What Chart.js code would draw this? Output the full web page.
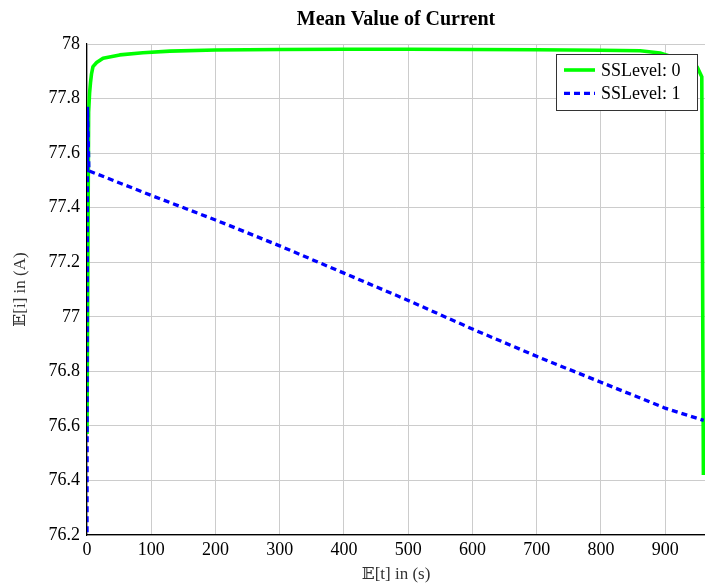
<!DOCTYPE html>
<html>
<head>
<meta charset="utf-8">
<script src="https://cdn.jsdelivr.net/npm/chart.js@4"></script>
<style>
html,body{margin:0;padding:0;background:#fff;}
#wrap{width:705px;height:588px;}
</style>
</head>
<body>
<div id="wrap"><canvas id="c" width="705" height="588"></canvas></div>
<script>
// ---- data ----
const chartTitle = 'Mean Value of Current';
const xTitle = '\u{1D53C}[t] in (s)';
const yTitle = '\u{1D53C}[i] in (A)';
const seriesNames = ['SSLevel: 0', 'SSLevel: 1'];

const xTicks = [0, 100, 200, 300, 400, 500, 600, 700, 800, 900];
const xTickLabels = ['0', '100', '200', '300', '400', '500', '600', '700', '800', '900'];
const yTicks = [76.2, 76.4, 76.6, 76.8, 77, 77.2, 77.4, 77.6, 77.8, 78];
const yTickLabels = ['76.2', '76.4', '76.6', '76.8', '77', '77.2', '77.4', '77.6', '77.8', '78'];

// SSLevel: 0 (green)
const t0 = [0, 2.5, 4, 5.5, 7, 9.3, 15, 25, 51, 87, 129, 200, 300, 400, 500, 600, 700, 800, 861, 892, 928, 950, 957, 959.5];
const i0 = [76.57, 77.75, 77.82, 77.86, 77.89, 77.917, 77.932, 77.948, 77.96, 77.968, 77.974, 77.978, 77.98, 77.981, 77.981, 77.98, 77.979, 77.977, 77.975, 77.967, 77.94, 77.915, 77.88, 76.42];

// SSLevel: 1 (blue, dashed)
const t1 = [0, 0.8, 3, 100, 200, 300, 400, 500, 600, 700, 800, 900, 960];
const i1 = [76.1, 77.77, 77.535, 77.445, 77.355, 77.26, 77.16, 77.06, 76.955, 76.855, 76.76, 76.665, 76.62];

const xMin = 0, xMax = 962, yMin = 76.2, yMax = 78;

// ---- chart ----
const serif = "'Liberation Serif', 'DejaVu Serif', serif";

const legendBox = {
  id: 'legendBox',
  afterDraw(chart) {
    const {ctx, chartArea} = chart;
    const w = 141, h = 56;
    const left = chartArea.right - 8 - w;
    const top = chartArea.top + 10;
    ctx.save();
    ctx.fillStyle = '#fff';
    ctx.fillRect(left, top, w, h);
    ctx.strokeStyle = '#333';
    ctx.lineWidth = 1;
    ctx.strokeRect(left + 0.5, top + 0.5, w, h);
    chart.data.datasets.forEach((ds, k) => {
      const y = top + 16 + k * 23.3;
      ctx.beginPath();
      ctx.strokeStyle = ds.borderColor;
      ctx.lineWidth = ds.borderWidth;
      ctx.setLineDash(ds.borderDash || []);
      ctx.moveTo(left + 8, y);
      ctx.lineTo(left + 39, y);
      ctx.stroke();
      ctx.setLineDash([]);
      ctx.fillStyle = '#000';
      ctx.font = "18px " + serif;
      ctx.textBaseline = 'middle';
      ctx.textAlign = 'left';
      ctx.fillText(ds.label, left + 45, y + 1);
    });
    ctx.restore();
  }
};

new Chart(document.getElementById('c'), {
  type: 'line',
  data: {
    datasets: [
      {
        label: seriesNames[0],
        data: t0.map((t, k) => ({x: t, y: i0[k]})),
        borderColor: '#00ff00',
        borderWidth: 3.6,
        pointRadius: 0,
        tension: 0,
        fill: false,
        order: 2,
        borderJoinStyle: 'round'
      },
      {
        label: seriesNames[1],
        data: t1.map((t, k) => ({x: t, y: i1[k]})),
        borderColor: '#0000ff',
        borderWidth: 3.3,
        borderDash: [6, 4],
        pointRadius: 0,
        tension: 0,
        fill: false,
        order: 1
      }
    ]
  },
  options: {
    responsive: false,
    animation: false,
    layout: {padding: {left: 10, right: 0, top: 0, bottom: 3}},
    plugins: {
      legend: {display: false},
      tooltip: {enabled: false},
      title: {
        display: true,
        text: chartTitle,
        fullSize: false,
        color: '#000',
        font: {family: serif, size: 20, weight: 'bold', lineHeight: 1.2},
        padding: {top: 8, bottom: 12}
      }
    },
    scales: {
      x: {
        type: 'linear',
        min: xMin, max: xMax,
        afterBuildTicks: s => { s.ticks = xTicks.map(v => ({value: v})); },
        afterFit: s => { s.height = 50; },
        ticks: {
          callback: (v, i) => xTickLabels[i],
          color: '#000',
          font: {family: serif, size: 18},
          padding: 4,
          maxRotation: 0,
          autoSkip: false
        },
        grid: {color: '#cccccc', lineWidth: 1, drawTicks: false},
        border: {display: true, color: '#000', width: 1.2},
        title: {
          display: true,
          text: xTitle,
          color: '#333',
          font: {family: serif, size: 17, lineHeight: 1.2},
          padding: 0
        }
      },
      y: {
        type: 'linear',
        min: yMin, max: yMax,
        afterBuildTicks: s => { s.ticks = yTicks.map(v => ({value: v})); },
        afterFit: s => { s.width = 77; },
        ticks: {
          callback: (v, i) => yTickLabels[i],
          color: '#000',
          font: {family: serif, size: 18},
          padding: 7,
          autoSkip: false
        },
        grid: {color: '#cccccc', lineWidth: 1, drawTicks: false},
        border: {display: true, color: '#000', width: 1.2},
        title: {
          display: true,
          text: yTitle,
          color: '#333',
          font: {family: serif, size: 17, lineHeight: 1.2},
          padding: 0
        }
      }
    }
  },
  plugins: [legendBox]
});
</script>
</body>
</html>
